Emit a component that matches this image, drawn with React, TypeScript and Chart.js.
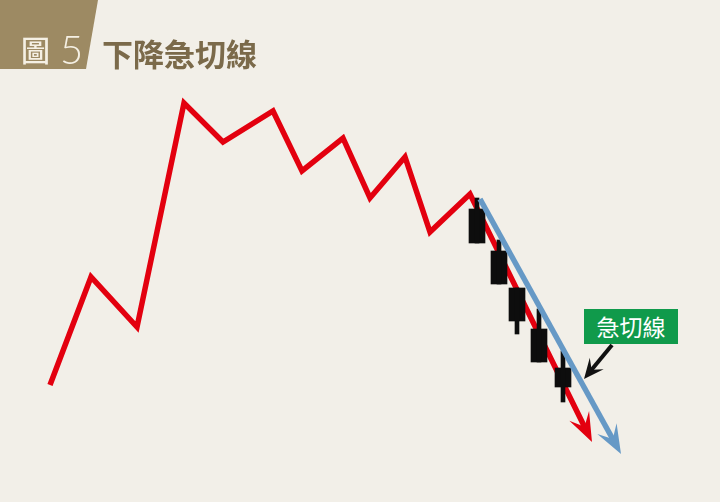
import { useEffect, useRef } from 'react'
import { Chart, registerables } from 'chart.js'
import type { Plugin } from 'chart.js'

Chart.register(...registerables)

// main price path (x = time position, y = price)
const PATH_X = [50, 91, 137, 184, 223, 273, 302, 343, 370, 405, 430, 470, 592]
const PATH_Y = [117, 225, 175, 399, 360, 391, 331, 364, 304, 345, 270, 308, 60]

// steep trend line (急切線)
const TREND_X = [480, 621]
const TREND_Y = [303, 48]

// falling candles
const CANDLE_X = [477, 499, 517, 539, 563]
const OPEN     = [293, 251, 214, 173, 134]
const CLOSE    = [259, 218, 181, 140, 115]
const HIGH     = [304, 262, 214, 193, 151]
const LOW      = [259, 218, 168, 140, 100]

// callout arrow from label to trend line
const CALLOUT_FROM = [612, 157]
const CALLOUT_TO   = [584, 123]

const BG     = '#f2efe8'
const RED    = '#e3000f'
const BLUE   = '#6699c6'
const BROWN  = '#9d8a63'
const TITLE  = '#7b6a4a'
const GREEN  = '#109a4b'

function drawHead(ctx: CanvasRenderingContext2D, tx: number, ty: number, ang: number, len: number, half: number, notch: number, color: string) {
  ctx.save()
  ctx.translate(tx, ty)
  ctx.rotate(ang)
  ctx.beginPath()
  ctx.moveTo(0, 0)
  ctx.lineTo(-len, -half)
  ctx.lineTo(-notch, 0)
  ctx.lineTo(-len, half)
  ctx.closePath()
  ctx.fillStyle = color
  ctx.fill()
  ctx.restore()
}

// shortens arrow-ended lines a bit and draws the head at the real end point
const arrowPlugin: Plugin<'line'> = {
  id: 'arrowHeads',
  beforeDatasetDraw(chart, args) {
    const ds: any = chart.data.datasets[args.index]
    if (!ds.arrow) return
    const pts: any[] = args.meta.data as any[]
    const a = pts[pts.length - 2], b = pts[pts.length - 1]
    const ang = Math.atan2(b.y - a.y, b.x - a.x)
    ds._tip = { x: b.x, y: b.y, ang }
    b.x = b.x - Math.cos(ang) * 14
    b.y = b.y - Math.sin(ang) * 14
  },
  afterDatasetDraw(chart, args) {
    const ds: any = chart.data.datasets[args.index]
    if (!ds.arrow || !ds._tip) return
    const pts: any[] = args.meta.data as any[]
    const b = pts[pts.length - 1]
    b.x = ds._tip.x
    b.y = ds._tip.y
    drawHead(chart.ctx, ds._tip.x, ds._tip.y, ds._tip.ang, 29, 11, 17, ds.borderColor)
  },
  afterDraw(chart) {
    const { ctx, scales: { x, y } } = chart
    const x0 = x.getPixelForValue(CALLOUT_FROM[0]), y0 = y.getPixelForValue(CALLOUT_FROM[1])
    const x1 = x.getPixelForValue(CALLOUT_TO[0]), y1 = y.getPixelForValue(CALLOUT_TO[1])
    const ang = Math.atan2(y1 - y0, x1 - x0)
    ctx.save()
    ctx.strokeStyle = '#111'
    ctx.lineWidth = 4
    ctx.beginPath()
    ctx.moveTo(x0, y0)
    ctx.lineTo(x1 - Math.cos(ang) * 10, y1 - Math.sin(ang) * 10)
    ctx.stroke()
    ctx.restore()
    drawHead(ctx, x1, y1, ang, 20, 9, 12, '#111')
  },
}

function TrendChart() {
  const canvasRef = useRef<HTMLCanvasElement>(null)
  const chartRef  = useRef<Chart | null>(null)

  useEffect(() => {
    if (!canvasRef.current) return
    chartRef.current?.destroy()
    chartRef.current = new Chart(canvasRef.current, {
      type: 'line',
      data: {
        datasets: [
          {
            data: PATH_X.map((v, i) => ({ x: v, y: PATH_Y[i] })),
            borderColor: RED,
            borderWidth: 5.5,
            borderJoinStyle: 'miter',
            pointRadius: 0,
            tension: 0,
            order: 3,
            arrow: true,
          } as any,
          {
            type: 'bar',
            data: CANDLE_X.map((v, i) => ({ x: v, y: [LOW[i], HIGH[i]] })),
            backgroundColor: '#0d0d0d',
            grouped: false,
            barPercentage: 1,
            categoryPercentage: 1,
            maxBarThickness: 4,
            order: 2,
          } as any,
          {
            type: 'bar',
            data: CANDLE_X.map((v, i) => ({ x: v, y: [CLOSE[i], OPEN[i]] })),
            backgroundColor: '#0d0d0d',
            grouped: false,
            barPercentage: 1,
            categoryPercentage: 1,
            maxBarThickness: 16,
            order: 2,
          } as any,
          {
            data: TREND_X.map((v, i) => ({ x: v, y: TREND_Y[i] })),
            borderColor: BLUE,
            borderWidth: 5.5,
            pointRadius: 0,
            order: 1,
            arrow: true,
          } as any,
        ],
      },
      options: {
        responsive: false,
        animation: false,
        events: [],
        layout: { padding: 0 },
        plugins: { legend: { display: false }, tooltip: { enabled: false } },
        scales: {
          x: { type: 'linear', min: 0, max: 720, offset: false, display: false, ticks: { stepSize: 120 } },
          y: { type: 'linear', min: 0, max: 502, display: false },
        },
      },
      plugins: [arrowPlugin],
    })
    return () => { chartRef.current?.destroy(); chartRef.current = null }
  }, [])

  return <canvas ref={canvasRef} width={720} height={502} style={{ position: 'absolute', left: 0, top: 0 }} />
}

export default function App() {
  return (
    <div style={{ position: 'fixed', left: 0, top: 0, width: 720, height: 502, background: BG, overflow: 'hidden' }}>
      <TrendChart />

      {/* header tab */}
      <div style={{ position: 'absolute', left: 0, top: 0, width: 98, height: 69, background: BROWN,
        clipPath: 'polygon(0 0, 98px 0, 86px 69px, 0 69px)' }} />
      <div style={{ position: 'absolute', left: 21, top: 32, fontFamily: '"Noto Sans CJK TC"', fontWeight: 500, fontSize: 29,
        lineHeight: '34px', color: '#f5f0e4' }}>圖</div>
      <div style={{ position: 'absolute', left: 60, top: 28, fontFamily: 'Lato', fontWeight: 300, fontSize: 40,
        lineHeight: '42px', color: '#f5f0e4' }}>5</div>
      <div style={{ position: 'absolute', left: 102, top: 34, fontFamily: '"Noto Sans CJK TC"', fontWeight: 700,
        fontSize: 31, lineHeight: '37px', color: TITLE }}>下降急切線</div>

      {/* label */}
      <div style={{ position: 'absolute', left: 584, top: 309, width: 94, height: 35, background: GREEN,
        color: '#fff', fontFamily: '"Noto Sans CJK TC"', fontSize: 23, lineHeight: '35px', textAlign: 'center' }}>急切線</div>
    </div>
  )
}
